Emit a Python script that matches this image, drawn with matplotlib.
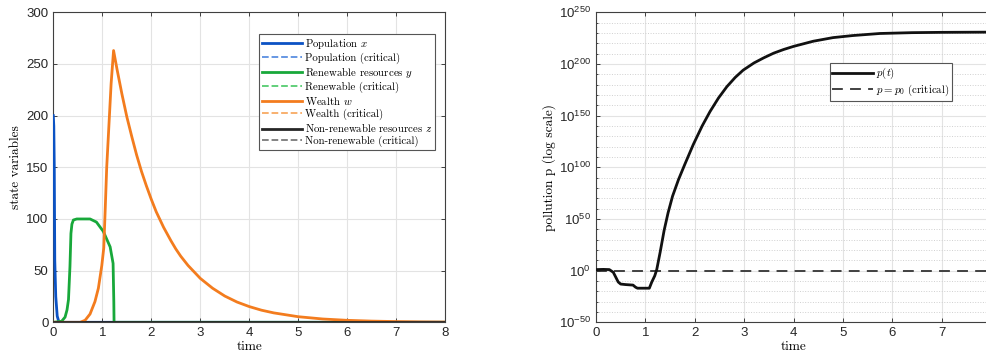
import numpy as np
import matplotlib
matplotlib.use("Agg")
import matplotlib.pyplot as plt
from matplotlib.ticker import FixedLocator

plt.rcParams['mathtext.fontset'] = 'cm'
plt.rcParams['font.family'] = ['Liberation Sans', 'DejaVu Sans']

# ---------------- data ----------------
t_x = [0, 0.01, 0.02, 0.03, 0.05, 0.08, 0.11, 0.15, 8]
pop_x = [200, 190, 150, 60, 25, 6, 1, 0, 0]

t_y = [0, 0.17, 0.24, 0.28, 0.31, 0.34, 0.36, 0.38, 0.41, 0.48, 0.6, 0.75,
       0.88, 1.02, 1.16, 1.22, 1.235, 1.24, 8]
ren_y = [0, 1, 5, 12, 22, 54, 86, 95, 99, 100, 100, 100,
         97, 88, 73, 57, 20, 0, 0]

t_w = [0, 0.55, 0.65, 0.75, 0.85, 0.92, 0.99, 1.03, 1.06, 1.09, 1.14, 1.18,
       1.23, 1.3, 1.4, 1.5, 1.6, 1.7, 1.8, 1.9, 2.0, 2.1, 2.25, 2.4, 2.5,
       2.6, 2.75, 3.0, 3.25, 3.5, 3.75, 4.0, 4.25, 4.5, 5.0, 5.5, 6.0, 6.5,
       7.0, 7.5, 8.0]
wealth_w = [0, 0, 2, 8, 20, 33, 55, 72, 110, 150, 195, 231,
            263, 245, 221, 199, 180, 162, 146, 132, 119, 107, 92, 79, 71,
            64, 55, 42.5, 33, 25.4, 19.6, 15.2, 11.7, 9.1, 5.4, 3.2, 1.9, 1.15,
            0.7, 0.4, 0.25]

t_z = [0, 8]
nonren_z = [0, 0]
crit_zero = [0, 0]

t_p = [0, 0.15, 0.27, 0.35, 0.45, 0.5, 0.6, 0.75, 0.8, 0.84, 1.0, 1.08,
       1.13, 1.19, 1.23, 1.3, 1.38, 1.46, 1.55, 1.67, 1.8, 1.97, 2.15,
       2.31, 2.48, 2.65, 2.82, 2.98, 3.2, 3.4, 3.6, 3.8, 4.0, 4.4, 4.8,
       5.2, 5.75, 6.4, 7.0, 8.0]
log10_p = [1, 1.2, 1, -1.6, -11, -13, -13.5, -14, -16, -17, -17, -17,
           -11, -5, 1, 18, 39, 56, 72, 88, 103, 122, 140,
           154, 167, 178, 187, 194, 201, 206, 210.5, 214, 217, 222, 225.5,
           227.5, 229.5, 230.3, 230.6, 230.8]
p0 = 1.0

left_yticks = [0, 50, 100, 150, 200, 250, 300]
left_xticks = [0, 1, 2, 3, 4, 5, 6, 7, 8]
right_exps = [-50, 0, 50, 100, 150, 200, 250]
right_xticks = [0, 1, 2, 3, 4, 5, 6, 7]

# ---------------- figure ----------------
fig = plt.figure(figsize=(9.87, 3.6), dpi=100)
W, H = 987, 360
ax1 = fig.add_axes([53.3 / W, 1 - 322.3 / H, 392 / W, 310 / H])
ax2 = fig.add_axes([596 / W, 1 - 322.3 / H, 395 / W, 310 / H])

serif = 'cmr10'
tick_col = '#262626'
grid_col = '#e3e3e3'

C_BLUE, C_BLUE_L = '#0b52c4', '#5b8fe0'
C_GREEN, C_GREEN_L = '#18a83a', '#55cc70'
C_ORANGE, C_ORANGE_L = '#f37c1e', '#f8aa63'
C_BLACK, C_GREY = '#262626', '#7a7a7a'

lw = 2.0
ax1.plot(t_z, crit_zero, '--', color=C_BLUE_L, lw=1.3, label='Population (critical)', zorder=1)
ax1.plot(t_z, crit_zero, '--', color=C_GREEN_L, lw=1.3, label='Renewable (critical)', zorder=1)
ax1.plot(t_z, crit_zero, '--', color=C_ORANGE_L, lw=1.3, label='Wealth (critical)', zorder=1)
ax1.plot(t_z, crit_zero, '--', color=C_GREY, lw=1.3, label='Non-renewable (critical)', zorder=1)

ax1.plot(t_x, pop_x, color=C_BLUE, lw=lw, label='Population $x$', zorder=3)
ax1.plot(t_y, ren_y, color=C_GREEN, lw=lw, label='Renewable resources $y$', zorder=3)
ax1.plot(t_w, wealth_w, color=C_ORANGE, lw=lw, label='Wealth $w$', zorder=3)
ax1.plot(t_z, nonren_z, color=C_BLACK, lw=lw, label='Non-renewable resources $z$', zorder=4)

ax1.set_xlim(0, 8)
ax1.set_ylim(0, 300)
ax1.set_xticks(left_xticks)
ax1.set_yticks(left_yticks)
ax1.grid(True, color=grid_col, lw=0.8)
ax1.set_axisbelow(True)
ax1.set_xlabel('time', family=serif, fontsize=9.6, labelpad=1)
ax1.set_ylabel('state variables', family=serif, fontsize=9.6, labelpad=3)

handles, labels = ax1.get_legend_handles_labels()
order = ['Population $x$', 'Population (critical)', 'Renewable resources $y$',
         'Renewable (critical)', 'Wealth $w$', 'Wealth (critical)',
         'Non-renewable resources $z$', 'Non-renewable (critical)']
hmap = dict(zip(labels, handles))
leg1 = ax1.legend([hmap[k] for k in order], order, loc='upper right',
                  bbox_to_anchor=(0.974, 0.93), prop={'family': serif, 'size': 7.8},
                  fancybox=False, edgecolor='#555555', framealpha=1,
                  handlelength=3.7, labelspacing=0.15, borderpad=0.25,
                  handletextpad=0.3, borderaxespad=0)
leg1.get_frame().set_linewidth(0.8)

# ---------------- right ----------------
p_vals = [10.0 ** v for v in log10_p]
ax2.plot(t_p, p_vals, color='#111111', lw=2.0, label='$p(t)$', zorder=3)
ax2.plot([0, 8], [p0, p0], '--', color='#333333', lw=1.3, dashes=(6, 4),
         label='$p = p_0$ (critical)', zorder=2)
ax2.set_yscale('log')
ax2.set_xlim(0, 8)
ax2.set_ylim(1e-50, 1e250)
ax2.yaxis.set_major_locator(FixedLocator([10.0 ** e for e in right_exps]))
ax2.set_yticklabels([r'$\mathregular{10^{%d}}$' % e for e in right_exps])
ax2.yaxis.set_minor_locator(FixedLocator([10.0 ** e for e in range(-50, 251, 10)]))
ax2.yaxis.set_minor_formatter(plt.NullFormatter())
ax2.set_xticks(right_xticks)
ax2.grid(True, which='major', color=grid_col, lw=0.8)
ax2.grid(True, which='minor', axis='y', color='#d0d0d0', lw=0.7, ls=':')
ax2.set_axisbelow(True)
ax2.set_xlabel('time', family=serif, fontsize=9.6, labelpad=1)
ax2.set_ylabel('pollution p (log scale)', family=serif, fontsize=9.6, labelpad=2)
leg2 = ax2.legend(loc='upper right', bbox_to_anchor=(0.901, 0.835),
                  prop={'family': serif, 'size': 7.8}, fancybox=False,
                  edgecolor='#555555', framealpha=1, handlelength=3.7,
                  labelspacing=0.15, borderpad=0.25, handletextpad=0.3,
                  borderaxespad=0)
leg2.get_frame().set_linewidth(0.8)

for ax in (ax1, ax2):
    ax.tick_params(which='both', direction='in', top=True, right=True,
                   labelsize=9.5, colors=tick_col, length=3, width=0.6)
    ax.tick_params(which='minor', length=1.5)
    for s in ax.spines.values():
        s.set_color('#404040')
        s.set_linewidth(0.8)

fig.savefig('out.png', dpi=100)
